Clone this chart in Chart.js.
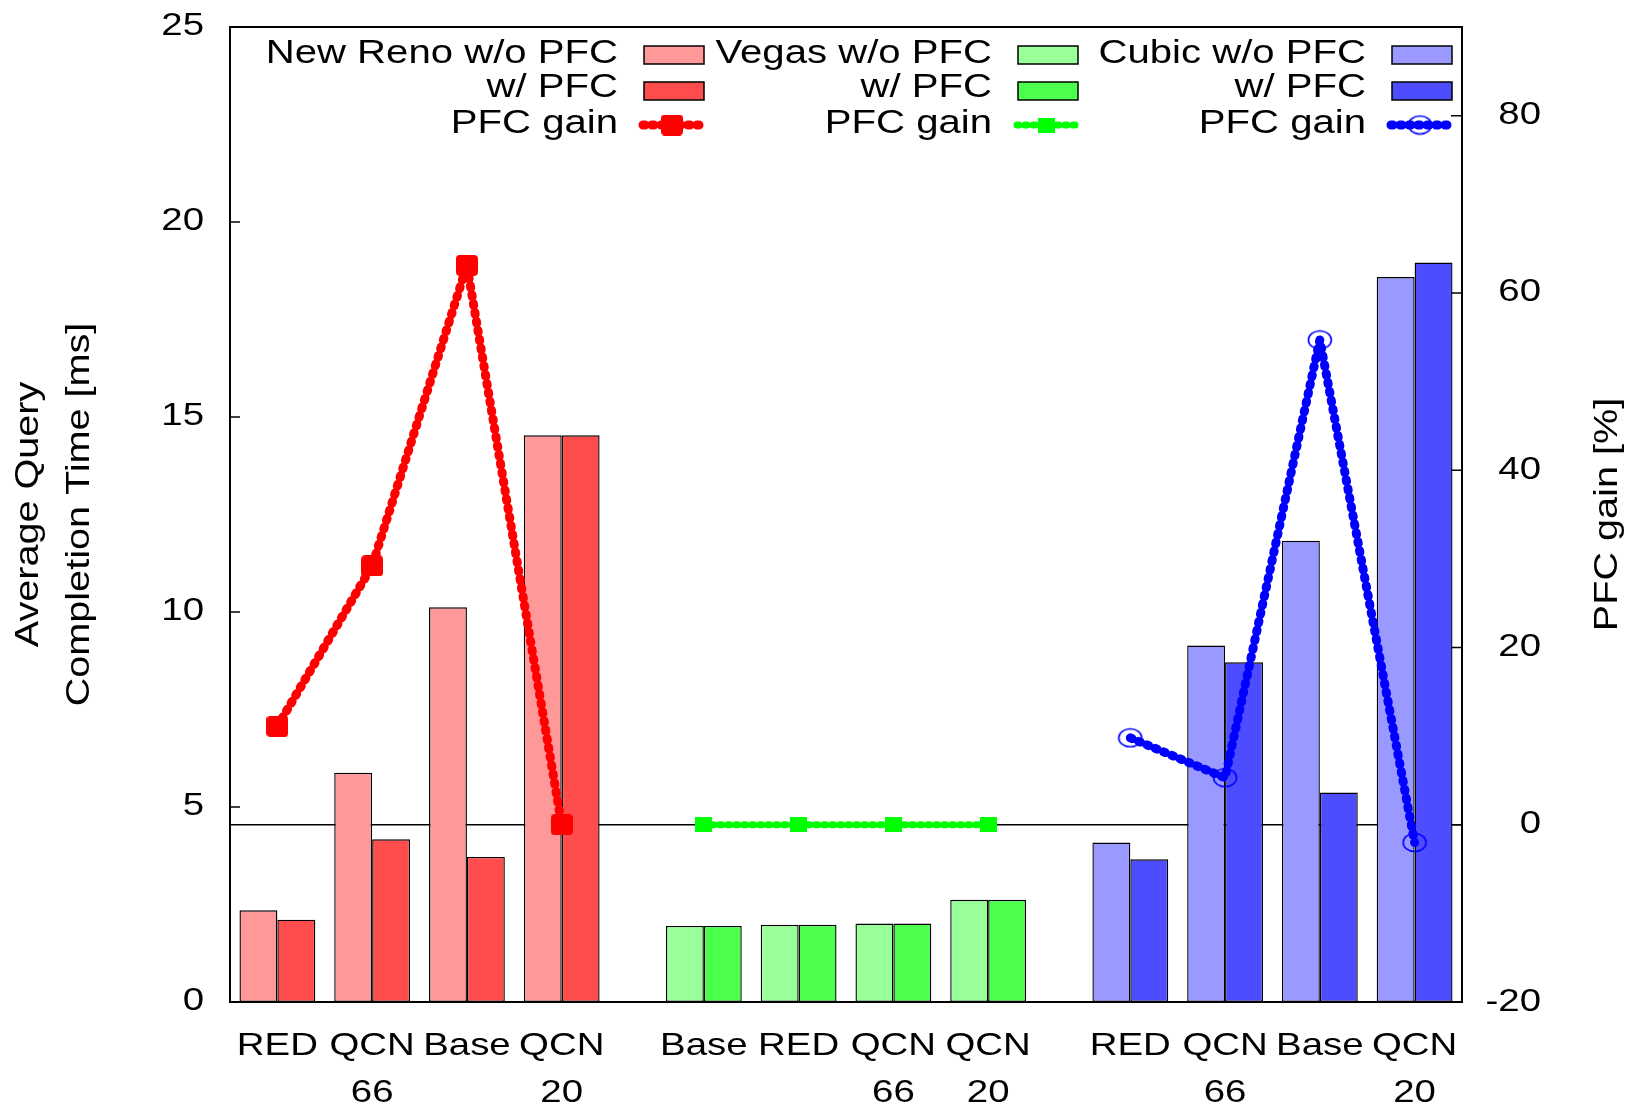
<!DOCTYPE html>
<html>
<head>
<meta charset="utf-8">
<script src="https://cdn.jsdelivr.net/npm/chart.js@4/dist/chart.umd.min.js"></script>
<style>
  html, body { margin: 0; padding: 0; background: #fff; overflow: hidden; }
  #chart { display: block; }
</style>
</head>
<body>
<canvas id="chart" width="1633" height="1112"></canvas>
<script>
// ---- data -------------------------------------------------------------
// x slot of every cluster (three groups of four, wider gap between groups)
const positions = [0, 1, 2, 3, 4.5, 5.5, 6.5, 7.5, 9, 10, 11, 12];
const tickLabels = [
  ['RED'], ['QCN', '66'], ['Base'], ['QCN', '20'],
  ['Base'], ['RED'], ['QCN', '66'], ['QCN', '20'],
  ['RED'], ['QCN', '66'], ['Base'], ['QCN', '20']
];
const groupNames = ['New Reno', 'Vegas', 'Cubic'];

// average query completion time [ms]
const newRenoNoPfc = [2.35, 5.88, 10.12, 14.53];
const newRenoPfc   = [2.11, 4.17, 3.72, 14.53];
const vegasNoPfc   = [1.95, 1.98, 2.01, 2.62];
const vegasPfc     = [1.95, 1.98, 2.01, 2.62];
const cubicNoPfc   = [4.09, 9.14, 11.83, 18.59];
const cubicPfc     = [3.66, 8.71, 5.37, 18.96];

// PFC gain [%]
const newRenoGain = [11.1, 29.2, 63.1, 0];
const vegasGain   = [0, 0, 0, 0];
const cubicGain   = [9.8, 5.3, 54.7, -2.0];

const leftTicks  = [0, 5, 10, 15, 20, 25];
const rightTicks = [-20, 0, 20, 40, 60, 80];

// ---- styling ----------------------------------------------------------
const FONT = '"Liberation Sans", Arial, Helvetica, sans-serif';
const lightFill = ['#ff9999', '#99ff99', '#9999ff'];
const darkFill  = ['#ff4d4d', '#4dff4d', '#4d4dff'];
const lineColor = ['#ff0000', '#00ff00', '#0000ff'];
const lineWidth = [9, 7, 9];
const lineDash  = [[2, 7], [2, 6], [2, 7]];

function markerCanvas(w, h, paint) {
  const c = document.createElement('canvas');
  c.width = w; c.height = h;
  paint(c.getContext('2d'), w, h);
  return c;
}
const markers = [
  markerCanvas(22, 21, (g, w, h) => {
    g.fillStyle = '#ff0000'; g.beginPath(); g.roundRect(0, 0, w, h, 4); g.fill();
  }),
  markerCanvas(17, 15, (g, w, h) => {
    g.fillStyle = '#00ff00'; g.fillRect(0, 0, w, h);
  }),
  markerCanvas(26, 21, (g, w, h) => {
    g.strokeStyle = '#0000ff'; g.lineWidth = 1.6;
    g.beginPath(); g.ellipse(w / 2, h / 2, w / 2 - 1.5, h / 2 - 1.5, 0, 0, Math.PI * 2); g.stroke();
  })
];

// ---- datasets ---------------------------------------------------------
const noPfcGroups = [newRenoNoPfc, vegasNoPfc, cubicNoPfc];
const pfcGroups   = [newRenoPfc, vegasPfc, cubicPfc];
const gainGroups  = [newRenoGain, vegasGain, cubicGain];

const asPoints = (arr, g) => arr.map((v, i) => ({ x: positions[g * 4 + i], y: v }));
const flatPoints = groups => groups.flatMap((arr, g) => asPoints(arr, g));
const perBar = colors => colors.flatMap(c => [c, c, c, c]);

const datasets = [
  {
    type: 'bar', label: 'w/o PFC', order: 2, yAxisID: 'y',
    data: flatPoints(noPfcGroups),
    backgroundColor: perBar(lightFill),
    borderColor: '#000', borderWidth: 1.4, borderSkipped: false
  },
  {
    type: 'bar', label: 'w/ PFC', order: 2, yAxisID: 'y',
    data: flatPoints(pfcGroups),
    backgroundColor: perBar(darkFill),
    borderColor: '#000', borderWidth: 1.4, borderSkipped: false
  }
];
gainGroups.forEach((arr, g) => {
  datasets.push({
    type: 'line', label: groupNames[g] + ' PFC gain', order: 0, yAxisID: 'y2',
    data: asPoints(arr, g),
    borderColor: lineColor[g], borderWidth: lineWidth[g],
    borderDash: lineDash[g], borderCapStyle: 'round', borderJoinStyle: 'round',
    tension: 0, fill: false,
    pointStyle: markers[g], pointRadius: 10
  });
});

// ---- text helper: glyphs drawn slightly widened along the reading direction
function wideText(ctx, text, x, y, size, align, rotate, widen) {
  ctx.save();
  ctx.translate(x, y);
  if (rotate) ctx.rotate(rotate);
  ctx.scale(widen || 1.2, 1);
  ctx.font = size + 'px ' + FONT;
  ctx.fillStyle = '#000';
  ctx.textAlign = align;
  ctx.textBaseline = 'alphabetic';
  ctx.fillText(text, 0, 0);
  ctx.restore();
}

const decor = {
  id: 'decor',
  beforeDatasetsDraw(chart) {
    const { ctx, chartArea: a, scales } = chart;
    const y0 = scales.y2.getPixelForValue(0);
    ctx.save();
    ctx.strokeStyle = '#000';
    ctx.lineWidth = 1.5;
    ctx.beginPath();
    ctx.moveTo(a.left, y0); ctx.lineTo(a.right, y0);
    ctx.stroke();
    ctx.restore();
  },
  afterDatasetsDraw(chart) {
    const { ctx, chartArea: a, scales } = chart;
    ctx.save();
    ctx.strokeStyle = '#000';
    ctx.lineWidth = 1.5;
    // inward tick marks
    ctx.beginPath();
    scales.y.ticks.forEach(t => {
      const p = scales.y.getPixelForValue(t.value);
      ctx.moveTo(a.left, p); ctx.lineTo(a.left + 10, p);
    });
    scales.y2.ticks.forEach(t => {
      const p = scales.y2.getPixelForValue(t.value);
      ctx.moveTo(a.right, p); ctx.lineTo(a.right - 11, p);
    });
    ctx.stroke();
    // frame
    ctx.lineWidth = 2;
    ctx.strokeRect(a.left, a.top, a.right - a.left, a.bottom - a.top);
    ctx.restore();
  },
  afterDraw(chart) {
    const { ctx, chartArea: a, scales } = chart;
    // tick labels
    scales.y.ticks.forEach(t => {
      wideText(ctx, String(t.value), 204, scales.y.getPixelForValue(t.value) + 8, 32, 'right');
    });
    scales.y2.ticks.forEach(t => {
      wideText(ctx, String(t.value), 1541, scales.y2.getPixelForValue(t.value) + 8.5, 32, 'right');
    });
    scales.x.ticks.forEach((t, i) => {
      const px = scales.x.getPixelForValue(t.value);
      tickLabels[i].forEach((line, k) => wideText(ctx, line, px, 1055 + k * 47, 32, 'center'));
    });
    // axis titles
    const midY = (a.top + a.bottom) / 2;
    wideText(ctx, 'Average Query', 38, midY, 33, 'center', -Math.PI / 2);
    wideText(ctx, 'Completion Time [ms]', 89, midY, 33, 'center', -Math.PI / 2);
    wideText(ctx, 'PFC gain [%]', 1617, midY, 33, 'center', -Math.PI / 2);

    // legend: three columns (one per TCP variant), three rows
    const colStep = 374;
    groupNames.forEach((name, g) => {
      const textRight = 618 + g * colStep;
      const sx = 644 + g * colStep;
      wideText(ctx, name + ' w/o PFC', textRight, 63, 34, 'right', 0, 1.18);
      wideText(ctx, 'w/ PFC', textRight, 97, 34, 'right', 0, 1.18);
      wideText(ctx, 'PFC gain', textRight, 133, 34, 'right', 0, 1.18);
      ctx.save();
      ctx.lineWidth = 1.5;
      ctx.strokeStyle = '#000';
      ctx.fillStyle = lightFill[g];
      ctx.fillRect(sx, 46, 60, 18); ctx.strokeRect(sx, 46, 60, 18);
      ctx.fillStyle = darkFill[g];
      ctx.fillRect(sx, 82, 60, 18); ctx.strokeRect(sx, 82, 60, 18);
      ctx.strokeStyle = lineColor[g];
      ctx.lineWidth = lineWidth[g];
      ctx.lineCap = 'round';
      ctx.setLineDash(lineDash[g]);
      ctx.beginPath();
      ctx.moveTo(sx - 1, 125); ctx.lineTo(sx + 57, 125);
      ctx.stroke();
      ctx.setLineDash([]);
      const m = markers[g];
      ctx.drawImage(m, sx + 28 - m.width / 2, 125 - m.height / 2);
      ctx.restore();
    });
  }
};

new Chart(document.getElementById('chart'), {
  type: 'bar',
  data: { datasets },
  options: {
    responsive: false,
    animation: false,
    devicePixelRatio: 1,
    events: [],
    layout: { padding: { top: 27, left: 0, right: 0, bottom: 0 } },
    datasets: { bar: { categoryPercentage: 0.8, barPercentage: 1.0 } },
    plugins: { legend: { display: false }, tooltip: { enabled: false } },
    scales: {
      x: {
        type: 'linear', min: -0.5, max: 12.5, offset: false,
        afterBuildTicks: s => { s.ticks = positions.map(v => ({ value: v })); },
        ticks: { display: false },
        grid: { display: false, drawTicks: false },
        border: { display: false },
        afterFit: s => { s.height = 110; }
      },
      y: {
        type: 'linear', position: 'left', min: 0, max: 25,
        afterBuildTicks: s => { s.ticks = leftTicks.map(v => ({ value: v })); },
        ticks: { display: false },
        grid: { display: false, drawTicks: false },
        border: { display: false },
        afterFit: s => { s.width = 230; }
      },
      y2: {
        type: 'linear', position: 'right', min: -20, max: 90,
        afterBuildTicks: s => { s.ticks = rightTicks.map(v => ({ value: v })); },
        ticks: { display: false },
        grid: { display: false, drawTicks: false },
        border: { display: false },
        afterFit: s => { s.width = 171; }
      }
    }
  },
  plugins: [decor]
});
</script>
</body>
</html>
